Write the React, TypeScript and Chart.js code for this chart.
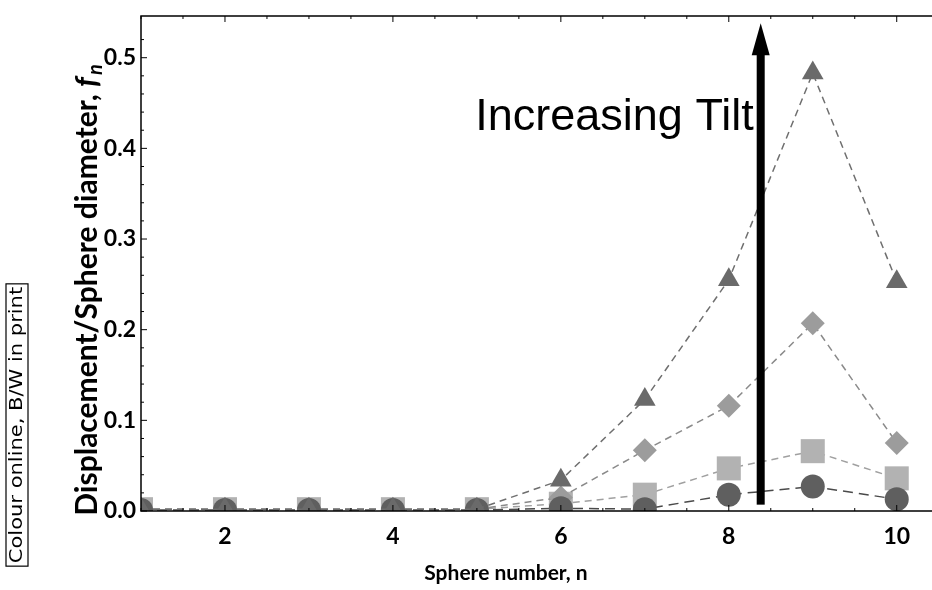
import { useEffect, useRef } from 'react';
import { Chart, registerables } from 'chart.js';

Chart.register(...registerables);

// Sphere index along the chain
const sphereNumbers = [1, 2, 3, 4, 5, 6, 7, 8, 9, 10];

// Normalised displacement f_n for four tilt angles (smallest to largest)
const tiltCircle = [0.001, 0.001, 0.001, 0.001, 0.001, 0.003, 0.002, 0.018, 0.027, 0.013];
const tiltSquare = [0.002, 0.002, 0.002, 0.002, 0.002, 0.008, 0.018, 0.047, 0.066, 0.036];
const tiltDiamond = [0.002, 0.002, 0.002, 0.002, 0.002, 0.015, 0.067, 0.116, 0.207, 0.075];
const tiltTriangle = [0.002, 0.002, 0.002, 0.002, 0.002, 0.034, 0.123, 0.255, 0.483, 0.253];

const xTickValues = [2, 4, 6, 8, 10];
const yTickValues = [0, 0.1, 0.2, 0.3, 0.4, 0.5];

const xTitle = 'Sphere number, n';
const yTitle = 'Displacement/Sphere diameter, ';
const arrowLabel = 'Increasing Tilt';
const sideNote = 'Colour online, B/W in print';

const BOLD = '"Lato", "Open Sans", sans-serif';

const toPoints = (ys: number[]) => sphereNumbers.map((x, i) => ({ x, y: ys[i] }));

const decorations = {
  id: 'decorations',
  afterDraw(chart: any) {
    const { ctx, chartArea: a, scales } = chart;
    const xs = scales.x;
    const ys = scales.y;
    ctx.save();

    // axis frame: left, top and bottom lines
    ctx.strokeStyle = '#000';
    ctx.lineWidth = 1.5;
    ctx.beginPath();
    ctx.moveTo(a.right, a.top);
    ctx.lineTo(a.left, a.top);
    ctx.lineTo(a.left, a.bottom);
    ctx.lineTo(a.right, a.bottom);
    ctx.stroke();

    // inward tick marks
    ctx.lineWidth = 1;
    ctx.beginPath();
    for (let v = 0; v <= 0.54; v += 0.02) {
      const y = ys.getPixelForValue(v);
      const major = Math.abs(v * 10 - Math.round(v * 10)) < 1e-6;
      ctx.moveTo(a.left, y);
      ctx.lineTo(a.left + (major ? 6 : 3), y);
    }
    for (let v = 1; v <= 10.4; v += 0.5) {
      const x = xs.getPixelForValue(v);
      const major = Math.abs(v - Math.round(v)) < 1e-6 && Math.round(v) % 2 === 0;
      ctx.moveTo(x, a.bottom);
      ctx.lineTo(x, a.bottom - (major ? 6 : 3));
      ctx.moveTo(x, a.top);
      ctx.lineTo(x, a.top + (major ? 6 : 3));
    }
    ctx.stroke();

    // upward arrow
    const ax = xs.getPixelForValue(8.38);
    const yBottom = ys.getPixelForValue(0.007);
    const yTip = ys.getPixelForValue(0.538);
    const headLen = 32;
    const headHalf = 9;
    ctx.fillStyle = '#000';
    ctx.fillRect(ax - 4, yTip + headLen - 2, 8, yBottom - (yTip + headLen - 2));
    ctx.beginPath();
    ctx.moveTo(ax, yTip);
    ctx.lineTo(ax + headHalf, yTip + headLen);
    ctx.lineTo(ax - headHalf, yTip + headLen);
    ctx.closePath();
    ctx.fill();

    // arrow label
    ctx.font = '45px "Liberation Sans", Arial, sans-serif';
    ctx.textAlign = 'right';
    ctx.textBaseline = 'alphabetic';
    ctx.fillText(arrowLabel, ax - 7, ys.getPixelForValue(0.42));

    // x-axis title
    ctx.font = `bold 21px ${BOLD}`;
    ctx.textAlign = 'center';
    ctx.textBaseline = 'middle';
    ctx.fillText(xTitle, 506, 573);

    // y-axis title with italic f subscript n
    ctx.save();
    ctx.translate(87, 290);
    ctx.rotate(-Math.PI / 2);
    const big = 30;
    const small = 20;
    ctx.font = `bold ${big}px ${BOLD}`;
    const w1 = ctx.measureText(yTitle).width;
    ctx.font = `italic bold ${big}px ${BOLD}`;
    const w2 = ctx.measureText('f').width;
    ctx.font = `italic bold ${small}px ${BOLD}`;
    const w3 = ctx.measureText('n').width;
    let cx = -(w1 + w2 + w3 + 2) / 2;
    ctx.textAlign = 'left';
    ctx.textBaseline = 'alphabetic';
    ctx.font = `bold ${big}px ${BOLD}`;
    ctx.fillText(yTitle, cx, 10);
    cx += w1;
    ctx.font = `italic bold ${big}px ${BOLD}`;
    ctx.fillText('f', cx, 10);
    cx += w2 + 2;
    ctx.font = `italic bold ${small}px ${BOLD}`;
    ctx.fillText('n', cx, 15);
    ctx.restore();

    // boxed side note
    ctx.save();
    ctx.translate(17, 425);
    ctx.rotate(-Math.PI / 2);
    ctx.font = '21px "DejaVu Sans", sans-serif';
    ctx.textAlign = 'center';
    ctx.textBaseline = 'middle';
    const nw = ctx.measureText(sideNote).width;
    ctx.save();
    ctx.scale(1, 0.82);
    ctx.fillText(sideNote, 0, 1);
    ctx.restore();
    ctx.lineWidth = 1.2;
    ctx.strokeRect(-nw / 2 - 3, -11, nw + 6, 22);
    ctx.restore();

    ctx.restore();
  },
};

export default function App() {
  const ref = useRef<HTMLCanvasElement | null>(null);

  useEffect(() => {
    document.body.style.margin = '0';
    document.body.style.overflow = 'hidden';
    const canvas = ref.current;
    if (!canvas) return;

    const series = [
      { data: tiltTriangle, style: 'triangle', radius: 12.5, fill: '#6a6a6a', line: '#6f6f6f', dash: [7, 5], order: 0 },
      { data: tiltCircle, style: 'circle', radius: 12, fill: '#5f5f5f', line: '#4a4a4a', dash: [10, 6], order: 1 },
      { data: tiltDiamond, style: 'rectRot', radius: 12, fill: '#9c9c9c', line: '#8a8a8a', dash: [7, 5], order: 2 },
      { data: tiltSquare, style: 'rect', radius: 17, fill: '#b2b2b2', line: '#a0a0a0', dash: [7, 5], order: 3 },
    ];

    const chart = new Chart(canvas, {
      type: 'line',
      data: {
        datasets: series.map((s) => ({
          data: toPoints(s.data),
          order: s.order,
          borderColor: s.line,
          borderWidth: 1.5,
          borderDash: s.dash,
          pointStyle: s.style as any,
          pointRadius: s.radius,
          pointBackgroundColor: s.fill,
          pointBorderWidth: 0,
          pointBorderColor: s.fill,
          fill: false,
          tension: 0,
        })),
      },
      options: {
        responsive: false,
        animation: false,
        events: [],
        layout: { autoPadding: false, padding: { top: 16, left: 0, right: 0, bottom: 0 } },
        plugins: { legend: { display: false }, tooltip: { enabled: false } },
        scales: {
          x: {
            type: 'linear',
            min: 1,
            max: 10.42,
            grid: { display: false, drawTicks: false },
            border: { display: false },
            afterBuildTicks: (scale: any) => {
              scale.ticks = xTickValues.map((value) => ({ value }));
            },
            afterFit: (scale: any) => {
              scale.height = 79;
              scale.paddingLeft = 0;
              scale.paddingRight = 0;
            },
            ticks: {
              padding: 12,
              color: '#000',
              font: { family: BOLD, size: 23, weight: 'bold' },
              callback: (v: any) => String(v),
            },
          },
          y: {
            min: 0,
            max: 0.546,
            grid: { display: false, drawTicks: false },
            border: { display: false },
            afterBuildTicks: (scale: any) => {
              scale.ticks = yTickValues.map((value) => ({ value }));
            },
            afterFit: (scale: any) => {
              scale.width = 141;
              scale.paddingTop = 0;
              scale.paddingBottom = 0;
            },
            ticks: {
              padding: 5,
              color: '#000',
              font: { family: BOLD, size: 23, weight: 'bold' },
              callback: (v: any) => Number(v).toFixed(1),
            },
          },
        },
      },
      plugins: [decorations],
    });

    return () => chart.destroy();
  }, []);

  return <canvas ref={ref} width={932} height={590} style={{ display: 'block' }} />;
}
